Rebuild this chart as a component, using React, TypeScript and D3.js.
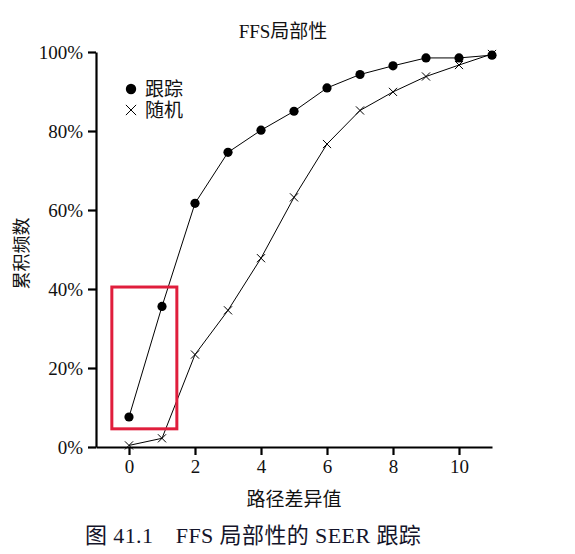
import React, { useRef, useEffect } from "react";
import * as d3 from "d3";

const xValues = [0, 1, 2, 3, 4, 5, 6, 7, 8, 9, 10, 11];
const trackingValues = [0.076, 0.356, 0.617, 0.746, 0.802, 0.85, 0.909, 0.943, 0.965, 0.985, 0.985, 0.992];
const randomValues = [0.004, 0.022, 0.234, 0.346, 0.478, 0.632, 0.767, 0.852, 0.899, 0.938, 0.967, 0.995];
const xTicks = [0, 2, 4, 6, 8, 10];
const yTicks = [0, 0.2, 0.4, 0.6, 0.8, 1];
const highlightX = [-0.52, 1.45];
const highlightY = [0.046, 0.405];

const FONT = "'Liberation Serif', 'Times New Roman', 'Noto Sans CJK SC', serif";

export default function App() {
  const svgRef = useRef<SVGSVGElement>(null);

  useEffect(() => {
    const svg = d3.select(svgRef.current);
    svg.selectAll("*").remove();

    const width = 575;
    const height = 554;

    const x = d3.scaleLinear().domain([-1, 11]).range([96, 492]);
    const y = d3.scaleLinear().domain([0, 1]).range([447, 52]);

    svg.attr("width", width).attr("height", height).style("font-family", FONT);
    svg.append("rect").attr("width", width).attr("height", height).attr("fill", "white");

    // axes
    const xAxis = svg.append("g")
      .attr("transform", `translate(0,${y(0)})`)
      .call(d3.axisBottom(x).tickValues(xTicks).tickSize(8).tickPadding(5).tickSizeOuter(0));
    const yAxis = svg.append("g")
      .attr("transform", `translate(${x(-1)},0)`)
      .call(d3.axisLeft(y).tickValues(yTicks).tickSize(8).tickPadding(5).tickSizeOuter(0)
        .tickFormat(d3.format(".0%")));

    [xAxis, yAxis].forEach(g => {
      g.select(".domain").attr("stroke", "#000").attr("stroke-width", 2.2);
      g.selectAll(".tick line").attr("stroke", "#000").attr("stroke-width", 2.2);
      g.selectAll(".tick text")
        .attr("fill", "#111")
        .style("font-size", "19px")
        .style("font-family", FONT);
    });

    const pts = xValues.map((v, i) => ({ x: v, t: trackingValues[i], r: randomValues[i] }));

    const lineT = d3.line<any>().x(d => x(d.x)).y(d => y(d.t));
    const lineR = d3.line<any>().x(d => x(d.x)).y(d => y(d.r));

    svg.append("path").datum(pts).attr("d", lineR)
      .attr("fill", "none").attr("stroke", "#000").attr("stroke-width", 1);
    svg.append("path").datum(pts).attr("d", lineT)
      .attr("fill", "none").attr("stroke", "#000").attr("stroke-width", 1);

    const cross = d3.symbol().type(d3.symbolX).size(45);
    svg.selectAll(".xr").data(pts).join("path")
      .attr("transform", d => `translate(${x(d.x)},${y(d.r)})`)
      .attr("d", cross)
      .attr("fill", "none")
      .attr("stroke", "#000")
      .attr("stroke-width", 1);

    svg.selectAll(".ct").data(pts).join("circle")
      .attr("cx", d => x(d.x))
      .attr("cy", d => y(d.t))
      .attr("r", 4.6)
      .attr("fill", "#000");

    // highlight box
    svg.append("rect")
      .attr("x", x(highlightX[0]))
      .attr("y", y(highlightY[1]))
      .attr("width", x(highlightX[1]) - x(highlightX[0]))
      .attr("height", y(highlightY[0]) - y(highlightY[1]))
      .attr("fill", "none")
      .attr("stroke", "#e01e3c")
      .attr("stroke-width", 3);

    // legend
    const legend = svg.append("g").attr("transform", "translate(131,89)");
    legend.append("circle").attr("r", 5.2).attr("fill", "#000");
    legend.append("text").attr("x", 14).attr("y", 7)
      .style("font-size", "19px").attr("fill", "#111").text("跟踪");
    legend.append("path").attr("transform", "translate(0,21)")
      .attr("d", d3.symbol().type(d3.symbolX).size(70)())
      .attr("fill", "none").attr("stroke", "#000").attr("stroke-width", 1);
    legend.append("text").attr("x", 14).attr("y", 28)
      .style("font-size", "19px").attr("fill", "#111").text("随机");

    // title and labels
    svg.append("text")
      .attr("x", 283).attr("y", 38)
      .attr("text-anchor", "middle")
      .style("font-size", "19px").attr("fill", "#111")
      .text("FFS局部性");

    svg.append("text")
      .attr("x", x(5))
      .attr("y", 506)
      .attr("text-anchor", "middle")
      .style("font-size", "19px").attr("fill", "#111")
      .text("路径差异值");

    svg.append("text")
      .attr("transform", `translate(28,${(y(0) + y(1)) / 2 + 4}) rotate(-90)`)
      .attr("text-anchor", "middle")
      .style("font-size", "18px").attr("fill", "#111")
      .text("累积频数");

    svg.append("text")
      .attr("x", 85).attr("y", 543)
      .style("font-size", "22px")
      .style("letter-spacing", "0.4px")
      .attr("fill", "#14142a")
      .attr("xml:space", "preserve")
      .text("图 41.1\u2003FFS 局部性的 SEER 跟踪");
  }, []);

  return (
    <div style={{ position: "absolute", left: 0, top: 0, background: "white" }}>
      <svg ref={svgRef} style={{ display: "block" }} />
    </div>
  );
}
